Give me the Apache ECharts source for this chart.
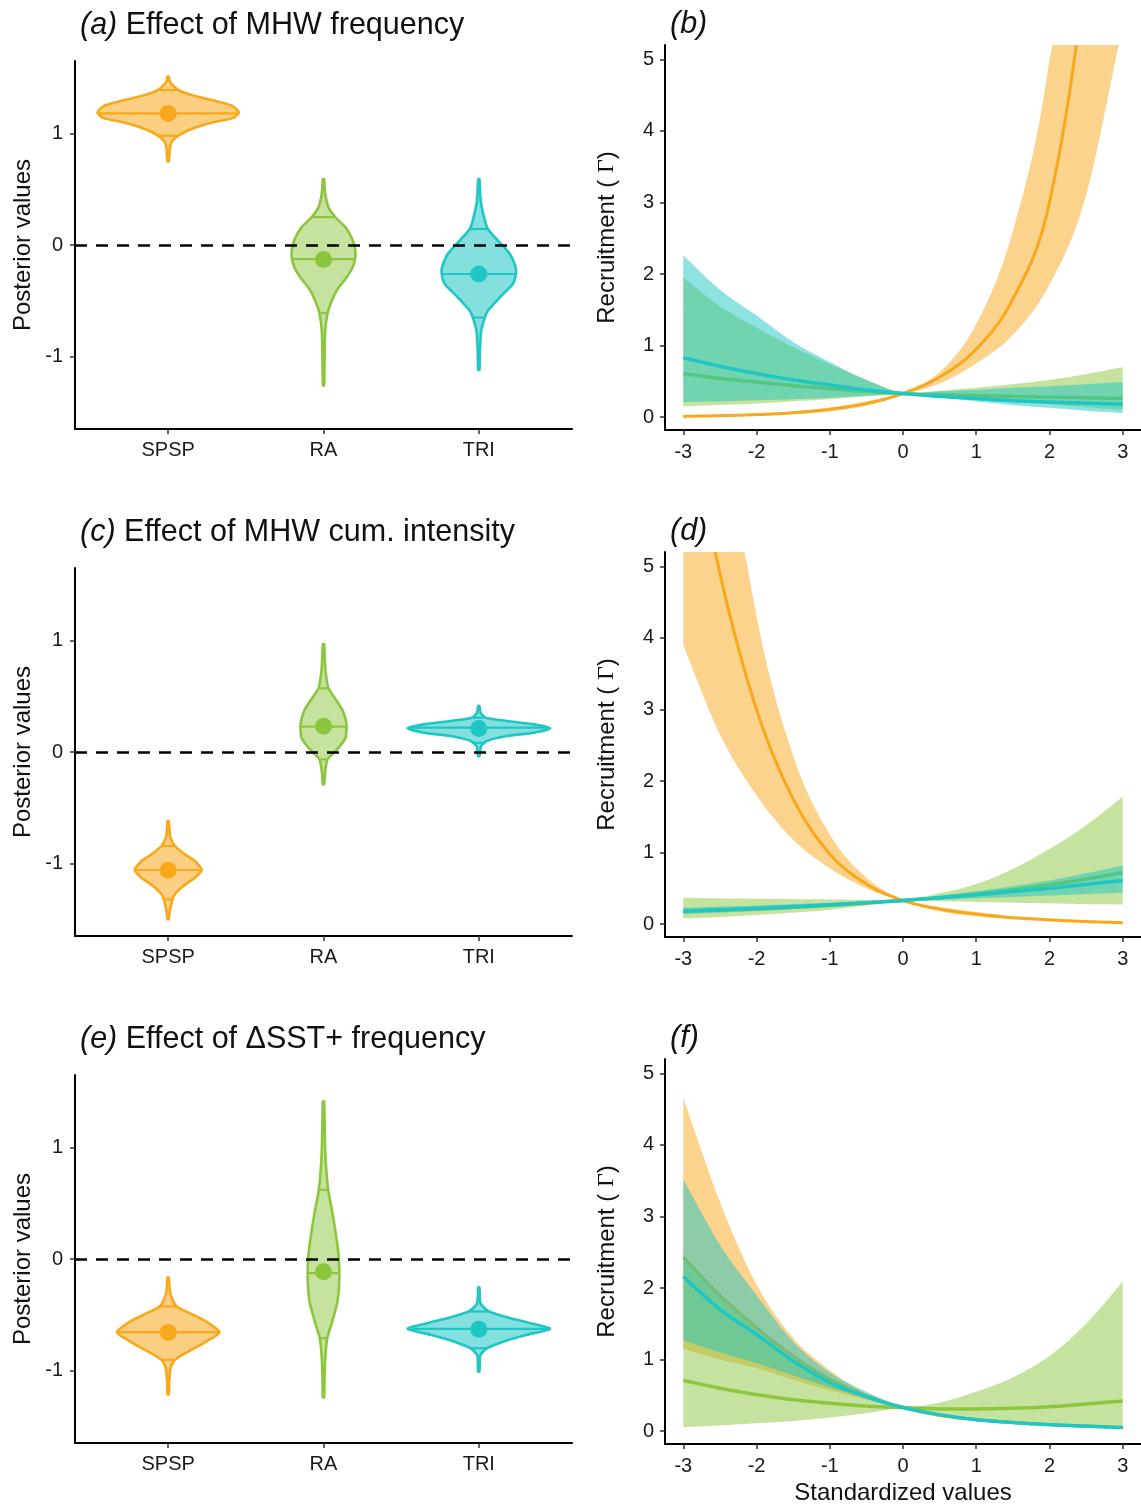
<!DOCTYPE html>
<html>
<head>
<meta charset="utf-8">
<script src="https://cdn.jsdelivr.net/npm/echarts@6/dist/echarts.min.js"></script>
<style>
html, body { margin: 0; padding: 0; background: #fff; }
#chart { width: 1141px; height: 1509px; }
</style>
</head>
<body>
<div id="chart"></div>
<script>
// species and colours
const species = ['SPSP', 'RA', 'TRI'];
const colors = ['#F7A81B', '#8CC63F', '#1EC6C4'];
const violinFill = ['rgba(247,168,27,0.55)', 'rgba(140,198,63,0.5)', 'rgba(30,198,196,0.55)'];
const bandFill = ['rgba(247,168,27,0.5)', 'rgba(140,198,63,0.5)', 'rgba(30,198,196,0.5)'];
const FONT = '"Liberation Sans", Arial, Helvetica, sans-serif';

// violin profiles: [posterior value, half width (category units)]
const aSPSP = [[1.51,0.004],[1.47,0.01],[1.44,0.025],[1.39,0.065],[1.34,0.16],[1.29,0.31],[1.25,0.41],[1.19,0.455],[1.14,0.42],[1.10,0.29],[1.04,0.15],[0.98,0.065],[0.93,0.025],[0.88,0.012],[0.75,0.004]];
const aRA = [[0.59,0.004],[0.50,0.008],[0.427,0.015],[0.337,0.032],[0.248,0.077],[0.158,0.142],[0.068,0.18],[-0.021,0.202],[-0.111,0.205],[-0.201,0.187],[-0.291,0.148],[-0.41,0.084],[-0.529,0.045],[-0.613,0.026],[-0.769,0.011],[-1.0,0.007],[-1.26,0.004]];
const aTRI = [[0.59,0.004],[0.45,0.009],[0.368,0.015],[0.218,0.039],[0.143,0.058],[0.039,0.123],[-0.081,0.2],[-0.201,0.237],[-0.26,0.239],[-0.35,0.219],[-0.47,0.135],[-0.589,0.058],[-0.649,0.039],[-0.769,0.015],[-0.95,0.007],[-1.12,0.004]];
const aQuant = [[0.98, 1.18, 1.39], [-0.61, -0.126, 0.25], [-0.65, -0.26, 0.143]];
const aMean = [1.18, -0.13, -0.26];

const cSPSP = [[-0.62,0.004],[-0.70,0.008],[-0.768,0.015],[-0.843,0.043],[-0.918,0.108],[-0.978,0.172],[-1.058,0.215],[-1.127,0.172],[-1.202,0.097],[-1.276,0.043],[-1.321,0.028],[-1.396,0.015],[-1.45,0.008],[-1.50,0.004]];
const cRA = [[0.966,0.004],[0.85,0.008],[0.726,0.013],[0.571,0.032],[0.457,0.086],[0.368,0.125],[0.248,0.148],[0.128,0.142],[0.039,0.097],[-0.066,0.026],[-0.17,0.011],[-0.29,0.004]];
const cTRI = [[0.413,0.004],[0.353,0.011],[0.308,0.043],[0.278,0.18],[0.248,0.355],[0.212,0.459],[0.173,0.355],[0.143,0.18],[0.099,0.052],[0.054,0.015],[-0.036,0.004]];
const cQuant = [[-1.321, -1.058, -0.843], [-0.066, 0.227, 0.571], [0.083, 0.218, 0.308]];
const cMean = [-1.06, 0.23, 0.21];

const eSPSP = [[-0.166,0.004],[-0.25,0.008],[-0.321,0.015],[-0.426,0.054],[-0.486,0.14],[-0.561,0.245],[-0.656,0.331],[-0.74,0.245],[-0.83,0.129],[-0.904,0.043],[-0.979,0.015],[-1.1,0.007],[-1.213,0.004]];
const eRA = [[1.413,0.004],[1.15,0.008],[0.904,0.013],[0.62,0.03],[0.456,0.052],[0.247,0.077],[0.038,0.097],[-0.172,0.102],[-0.381,0.09],[-0.561,0.056],[-0.71,0.024],[-0.89,0.011],[-1.05,0.007],[-1.242,0.004]];
const eTRI = [[-0.256,0.004],[-0.396,0.011],[-0.471,0.065],[-0.531,0.205],[-0.576,0.334],[-0.626,0.459],[-0.68,0.31],[-0.74,0.161],[-0.80,0.054],[-0.859,0.011],[-0.93,0.006],[-1.009,0.004]];
const eQuant = [[-0.904, -0.656, -0.426], [-0.71, -0.127, 0.62], [-0.80, -0.626, -0.471]];
const eMean = [-0.66, -0.115, -0.63];

// response curves (standardized values)
const xs = [-3, -2.5, -2, -1.5, -1, -0.5, 0, 0.5, 1, 1.5, 2, 2.5, 3];

const bSpspMean = [0.01,0.02,0.035,0.06,0.11,0.19,0.33,0.56,0.95,1.65,3.0,6.3,12];
const bSpspLo   = [0.005,0.01,0.02,0.04,0.08,0.16,0.31,0.47,0.75,1.15,1.85,3.1,5.5];
const bSpspHi   = [0.02,0.03,0.05,0.08,0.13,0.22,0.35,0.63,1.3,2.6,5.0,10,19];
const bRaMean   = [0.61,0.54,0.49,0.44,0.40,0.36,0.33,0.31,0.30,0.29,0.28,0.27,0.26];
const bRaLo     = [0.15,0.17,0.19,0.22,0.25,0.29,0.32,0.30,0.26,0.22,0.18,0.14,0.10];
const bRaHi     = [1.95,1.55,1.25,0.98,0.74,0.52,0.34,0.37,0.41,0.46,0.52,0.60,0.70];
const bTriMean  = [0.83,0.71,0.61,0.52,0.45,0.38,0.33,0.29,0.26,0.23,0.21,0.195,0.18];
const bTriLo    = [0.21,0.22,0.235,0.25,0.27,0.30,0.32,0.28,0.22,0.17,0.13,0.09,0.055];
const bTriHi    = [2.26,1.78,1.42,1.05,0.77,0.52,0.34,0.36,0.38,0.41,0.43,0.46,0.49];

const dSpspMean = [7.5,4.9,3.0,1.75,0.98,0.56,0.33,0.21,0.14,0.09,0.06,0.035,0.02];
const dSpspLo   = [3.9,2.65,1.8,1.18,0.78,0.5,0.32,0.18,0.11,0.07,0.045,0.025,0.012];
const dSpspHi   = [12.5,7.6,4.3,2.35,1.25,0.65,0.34,0.24,0.17,0.11,0.075,0.05,0.03];
const dRaMean   = [0.18,0.195,0.21,0.235,0.26,0.295,0.33,0.37,0.42,0.48,0.55,0.63,0.72];
const dRaLo     = [0.08,0.10,0.13,0.16,0.2,0.26,0.32,0.32,0.31,0.30,0.29,0.28,0.275];
const dRaHi     = [0.37,0.36,0.355,0.35,0.345,0.34,0.34,0.43,0.56,0.77,1.05,1.38,1.78];
const dTriMean  = [0.18,0.2,0.22,0.245,0.27,0.3,0.33,0.37,0.41,0.455,0.5,0.555,0.61];
const dTriLo    = [0.14,0.16,0.185,0.21,0.24,0.28,0.32,0.34,0.36,0.38,0.4,0.42,0.44];
const dTriHi    = [0.23,0.245,0.26,0.28,0.3,0.32,0.34,0.4,0.46,0.53,0.61,0.71,0.82];

const fSpspMean = [2.43,1.9,1.45,1.05,0.73,0.5,0.33,0.22,0.16,0.12,0.09,0.07,0.05];
const fSpspLo   = [1.15,1.0,0.88,0.72,0.57,0.44,0.32,0.2,0.14,0.1,0.07,0.05,0.035];
const fSpspHi   = [4.66,3.2,2.05,1.3,0.85,0.52,0.34,0.24,0.18,0.14,0.11,0.085,0.065];
const fRaMean   = [0.71,0.6,0.51,0.44,0.39,0.35,0.33,0.31,0.31,0.32,0.34,0.38,0.42];
const fRaLo     = [0.056,0.08,0.11,0.14,0.19,0.25,0.32,0.25,0.18,0.13,0.09,0.06,0.045];
const fRaHi     = [2.47,1.9,1.45,1.05,0.75,0.5,0.34,0.4,0.55,0.75,1.05,1.5,2.09];
const fTriMean  = [2.16,1.7,1.35,0.98,0.68,0.48,0.33,0.23,0.16,0.12,0.09,0.07,0.05];
const fTriLo    = [1.27,1.1,0.95,0.78,0.61,0.46,0.32,0.21,0.14,0.1,0.07,0.05,0.035];
const fTriHi    = [3.52,2.6,1.9,1.25,0.82,0.55,0.34,0.25,0.18,0.14,0.1,0.08,0.06];

// tick labels
const violinTicks = [-1, 0, 1];
const curveYTicks = [0, 1, 2, 3, 4, 5];
const curveXTicks = [-3, -2, -1, 0, 1, 2, 3];

// ---------------------------------------------------------------
const ROW = 507;
const violinPanels = [
  { prof: [aSPSP, aRA, aTRI], quant: aQuant, mean: aMean },
  { prof: [cSPSP, cRA, cTRI], quant: cQuant, mean: cMean },
  { prof: [eSPSP, eRA, eTRI], quant: eQuant, mean: eMean }
];
const curvePanels = [
  { mean: [bSpspMean, bRaMean, bTriMean], lo: [bSpspLo, bRaLo, bTriLo], hi: [bSpspHi, bRaHi, bTriHi] },
  { mean: [dSpspMean, dRaMean, dTriMean], lo: [dSpspLo, dRaLo, dTriLo], hi: [dSpspHi, dRaHi, dTriHi] },
  { mean: [fSpspMean, fRaMean, fTriMean], lo: [fSpspLo, fRaLo, fTriLo], hi: [fSpspHi, fRaHi, fTriHi] }
];
const titles = [
  ['(a)', 'Effect of MHW frequency'], ['(b)', ''],
  ['(c)', 'Effect of MHW cum. intensity'], ['(d)', ''],
  ['(e)', 'Effect of \u0394SST+ frequency'], ['(f)', '']
];

// half width of a violin at a given value (linear between read points)
function hwAt(prof, v) {
  for (let k = 0; k < prof.length - 1; k++) {
    const a = prof[k], b = prof[k + 1];
    if (v <= a[0] && v >= b[0]) {
      const t = (a[0] - v) / (a[0] - b[0]);
      return a[1] + t * (b[1] - a[1]);
    }
  }
  return 0;
}

function violinRender(panel) {
  return function (params, api) {
    const i = params.dataIndex;
    const cx = api.value(0);
    const prof = panel.prof[i];
    const right = prof.map(p => api.coord([cx + p[1], p[0]]));
    const left = prof.slice().reverse().map(p => api.coord([cx - p[1], p[0]]));
    const children = [{
      type: 'polygon',
      shape: { points: right.concat(left), smooth: 0.2 },
      style: { fill: violinFill[i], stroke: colors[i], lineWidth: 2.6, lineJoin: 'round' }
    }];
    panel.quant[i].forEach(q => {
      const hw = hwAt(prof, q);
      const p1 = api.coord([cx - hw, q]), p2 = api.coord([cx + hw, q]);
      children.push({
        type: 'line',
        shape: { x1: p1[0] + 1, y1: p1[1], x2: p2[0] - 1, y2: p2[1] },
        style: { stroke: colors[i], lineWidth: 2.2 }
      });
    });
    const m = api.coord([cx, panel.mean[i]]);
    children.push({ type: 'circle', shape: { cx: m[0], cy: m[1], r: 8.5 }, style: { fill: colors[i] } });
    return { type: 'group', children: children };
  };
}

// smooth pixel path through the read points (Catmull-Rom)
function smoothPts(P) {
  const out = [P[0]], n = 12;
  for (let i = 0; i < P.length - 1; i++) {
    const p0 = P[Math.max(i - 1, 0)], p1 = P[i], p2 = P[i + 1], p3 = P[Math.min(i + 2, P.length - 1)];
    for (let j = 1; j <= n; j++) {
      const t = j / n, t2 = t * t, t3 = t2 * t;
      const f = d => 0.5 * (2 * p1[d] + (-p0[d] + p2[d]) * t +
        (2 * p0[d] - 5 * p1[d] + 4 * p2[d] - p3[d]) * t2 +
        (-p0[d] + 3 * p1[d] - 3 * p2[d] + p3[d]) * t3);
      out.push([f(0), f(1)]);
    }
  }
  return out;
}

// cut a polyline at the top edge of the plot
function cutTop(pts, top) {
  const segs = [];
  let cur = [];
  for (let i = 0; i < pts.length; i++) {
    const p = pts[i], inside = p[1] >= top;
    if (inside) {
      if (!cur.length && i > 0) {
        const a = pts[i - 1], t = (top - a[1]) / (p[1] - a[1]);
        cur.push([a[0] + t * (p[0] - a[0]), top]);
      }
      cur.push(p);
    } else if (cur.length) {
      const a = pts[i - 1], t = (top - a[1]) / (p[1] - a[1]);
      cur.push([a[0] + t * (p[0] - a[0]), top]);
      segs.push(cur);
      cur = [];
    }
  }
  if (cur.length) segs.push(cur);
  return segs;
}

function curveRender(panel) {
  return function (params, api) {
    const s = params.dataIndex;
    const top = params.coordSys.y;
    const toPx = arr => xs.map((x, k) => api.coord([x, arr[k]]));
    const clampY = p => [p[0], Math.max(top, p[1])];
    const hi = smoothPts(toPx(panel.hi[s])).map(clampY);
    const lo = smoothPts(toPx(panel.lo[s])).map(clampY);
    const children = [{
      type: 'polygon',
      shape: { points: hi.concat(lo.reverse()) },
      style: { fill: bandFill[s] }
    }];
    cutTop(smoothPts(toPx(panel.mean[s])), top).forEach(seg => {
      children.push({
        type: 'polyline',
        shape: { points: seg },
        style: { stroke: colors[s], lineWidth: s === 0 ? 3 : 3.5, fill: null, lineJoin: 'round' }
      });
    });
    return { type: 'group', children: children };
  };
}

const grids = [], xAxes = [], yAxes = [], series = [], titleOpts = [];
const axisLineStyle = { show: true, onZero: false, lineStyle: { color: '#000', width: 2 } };
const tickStyle = { lineStyle: { color: '#333', width: 1.5 }, length: 5 };
const labelBase = { color: '#1a1a1a', fontSize: 20, fontFamily: FONT };

for (let r = 0; r < 3; r++) {
  // left: violins
  const gv = grids.length;
  grids.push({ left: 75, top: 61 + r * ROW, width: 497, height: 368 });
  xAxes.push({
    gridIndex: gv, type: 'value', min: 0.4, max: 3.6,
    axisLine: axisLineStyle, splitLine: { show: false },
    axisTick: Object.assign({ customValues: [1, 2, 3] }, tickStyle),
    axisLabel: Object.assign({ customValues: [1, 2, 3], margin: 11,
      formatter: v => species[Math.round(v) - 1] }, labelBase)
  });
  yAxes.push({
    gridIndex: gv, type: 'value', min: -1.65, max: 1.65,
    axisLine: axisLineStyle, splitLine: { show: false },
    axisTick: Object.assign({ customValues: violinTicks }, tickStyle),
    axisLabel: Object.assign({ customValues: violinTicks, margin: 12 }, labelBase),
    name: 'Posterior values', nameLocation: 'middle', nameGap: 40,
    nameTextStyle: { fontSize: 24, color: '#111', fontFamily: FONT }
  });
  const vp = violinPanels[r];
  series.push({
    type: 'custom', xAxisIndex: gv, yAxisIndex: gv,
    data: vp.mean.map((m, k) => [k + 1, m]),
    renderItem: violinRender(vp),
    silent: true,
    markLine: {
      silent: true, symbol: 'none', z: 10,
      label: { show: false },
      lineStyle: { color: '#000', width: 2.5, type: [12, 9] },
      data: [{ yAxis: 0 }]
    }
  });

  // right: response curves
  const gc = grids.length;
  grids.push({ left: 665, top: 45 + r * ROW, width: 476, height: 385 });
  const xa = {
    gridIndex: gc, type: 'value', min: -3.25, max: 3.25,
    axisLine: axisLineStyle, splitLine: { show: false },
    axisTick: Object.assign({ customValues: curveXTicks }, tickStyle),
    axisLabel: Object.assign({ customValues: curveXTicks, margin: 12 }, labelBase)
  };
  if (r === 2) {
    xa.name = 'Standardized values';
    xa.nameLocation = 'middle';
    xa.nameGap = 37;
    xa.nameTextStyle = { fontSize: 24, color: '#111', fontFamily: FONT };
  }
  xAxes.push(xa);
  yAxes.push({
    gridIndex: gc, type: 'value', min: -0.18, max: 5.2,
    axisLine: axisLineStyle, splitLine: { show: false },
    axisTick: Object.assign({ customValues: curveYTicks }, tickStyle),
    axisLabel: Object.assign({ customValues: curveYTicks, margin: 11 }, labelBase),
    name: '{s|Recruitment ( }{g|\u0393}{s|)}', nameLocation: 'middle', nameGap: 46,
    nameTextStyle: {
      rich: {
        s: { fontSize: 24, color: '#111', fontFamily: FONT },
        g: { fontSize: 24, color: '#111', fontFamily: '"Liberation Serif", "DejaVu Serif", serif' }
      }
    }
  });
  const cp = curvePanels[r];
  series.push({
    type: 'custom', xAxisIndex: gc, yAxisIndex: gc,
    clip: true, silent: true,
    data: [[-3, 0], [-3, 0], [-3, 0]],
    renderItem: curveRender(cp)
  });
}

// panel titles
titles.forEach((t, k) => {
  const r = Math.floor(k / 2), right = k % 2 === 1;
  titleOpts.push({
    left: right ? 665 : 75,
    top: 5 + r * ROW,
    text: '{i|' + t[0] + '}' + (t[1] ? '{n| ' + t[1] + '}' : ''),
    textStyle: {
      fontWeight: 'normal',
      rich: {
        i: { fontSize: 30.5, fontStyle: 'italic', fontWeight: 'normal', color: '#111', fontFamily: FONT },
        n: { fontSize: 30.5, fontWeight: 'normal', color: '#111', fontFamily: FONT }
      }
    }
  });
});

const chart = echarts.init(document.getElementById('chart'));
chart.setOption({
  animation: false,
  backgroundColor: '#fff',
  title: titleOpts,
  grid: grids,
  xAxis: xAxes,
  yAxis: yAxes,
  series: series
});
</script>
</body>
</html>
